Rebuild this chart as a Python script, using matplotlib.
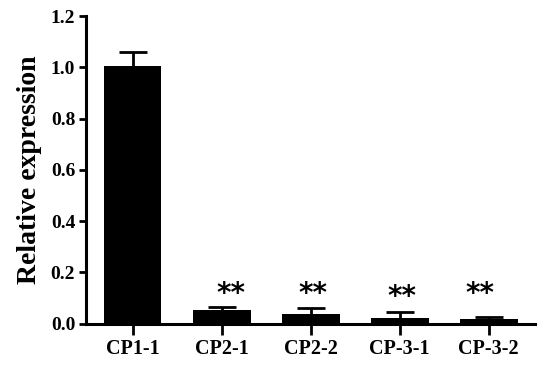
import matplotlib
matplotlib.use("Agg")
import matplotlib.pyplot as plt
import numpy as np

# data
samples = ["CP1-1", "CP2-1", "CP2-2", "CP-3-1", "CP-3-2"]
expression = [1.005, 0.051, 0.036, 0.023, 0.018]
error = [0.055, 0.013, 0.024, 0.020, 0.009]
marks = ["", "**", "**", "**", "**"]

plt.rcParams["font.family"] = ["Liberation Serif", "DejaVu Serif"]
plt.rcParams["font.weight"] = "bold"

fig = plt.figure(figsize=(5.39, 3.73), dpi=100)
ax = fig.add_axes([0.16, 0.1327, 0.8326, 0.8243])

x = np.arange(len(samples))
# symmetric bars drawn behind the columns, so only the upper half shows
ax.errorbar(x, expression, yerr=error, fmt="none",
            ecolor="black", elinewidth=2, capsize=10, capthick=2, zorder=1)
ax.bar(x, expression, width=0.65, color="black", zorder=2)

star_dx = [0, 0.1, 0.03, 0.02, -0.1]
star_y = [0, 0.117, 0.117, 0.102, 0.117]
for i, m in enumerate(marks):
    if m:
        ax.text(x[i] + star_dx[i], star_y[i], m, ha="center", va="center",
                fontsize=20, fontweight="bold", family="DejaVu Sans", zorder=3)

ax.set_xlim(-0.52, 4.52)
ax.set_ylim(0, 1.2)
ax.set_yticks([0.0, 0.2, 0.4, 0.6, 0.8, 1.0, 1.2])
ax.set_yticklabels(["0.0", "0.2", "0.4", "0.6", "0.8", "1.0", "1.2"])
ax.set_xticks(x)
ax.set_xticklabels(samples)
ax.tick_params(axis="y", labelsize=14, width=2, length=5, pad=3)
ax.tick_params(axis="x", labelsize=14.5, width=2, length=8, pad=3)
for lab in ax.get_xticklabels() + ax.get_yticklabels():
    lab.set_fontweight("bold")

ax.spines["top"].set_visible(False)
ax.spines["right"].set_visible(False)
ax.spines["left"].set_linewidth(2.2)
ax.spines["bottom"].set_linewidth(2.2)

ax.set_ylabel("Relative expression", fontsize=20, fontweight="bold", labelpad=6)

plt.savefig("out.png", dpi=100)
